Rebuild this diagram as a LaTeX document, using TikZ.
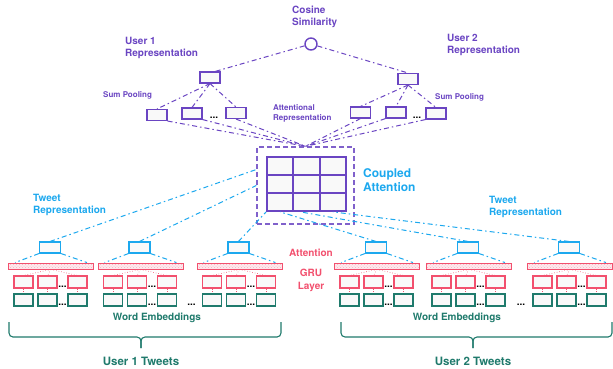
\documentclass[tikz,border=0pt]{standalone}
\usepackage{fontspec}
\setmainfont{TeX Gyre Heros}
\usetikzlibrary{calc,patterns}

\definecolor{umpurple}{HTML}{6A45C2}
\definecolor{twcyan}{HTML}{1CA8EE}
\definecolor{grured}{HTML}{F2506E}
\definecolor{embgreen}{HTML}{1F7A6C}

\tikzset{
    box/.style={fill=gray!5, inner sep=0pt, line width=1.1pt},
    userbox/.style={box, draw=umpurple, minimum width=20pt, minimum height=11pt},
    tweetbox/.style={box, draw=twcyan, minimum width=21pt, minimum height=11pt},
    grubox/.style={box, draw=grured, minimum width=19pt, minimum height=12pt},
    wordbox/.style={box, draw=embgreen, minimum width=19pt, minimum height=12pt},
    attnbar/.style={draw=grured, line width=0.9pt, inner sep=0pt, minimum width=85pt, minimum height=6pt,
        preaction={fill=grured!12}, pattern=crosshatch dots, pattern color=grured!45},
    cell/.style={draw=umpurple, fill=gray!5, line width=1.8pt, inner sep=0pt, minimum width=26.33pt, minimum height=18pt},
    dashline/.style={line width=1pt, dash pattern=on 5pt off 3pt on 1.5pt off 3pt},
    userline/.style={dashline, umpurple},
    tweetline/.style={dashline, twcyan},
    gruline/.style={grured, line width=0.6pt, dotted},
    lbl/.style={font=\bfseries\fontsize{10}{12.5}\selectfont, align=left, anchor=west, inner sep=0pt},
    small/.style={font=\bfseries\fontsize{8}{9.5}\selectfont, align=left, anchor=west, inner sep=0pt},
    dots/.style={font=\bfseries\fontsize{10}{12}\selectfont, anchor=base, inner sep=0pt},
}

% one tweet: word embeddings, GRU layer, attention bar, tweet box
\newcommand{\tweetgroup}[2]{
    \node[tweetbox] (t#1) at (#2+26.5, 247.5) {};
    \node[attnbar] (b#1) at (#2+27.5, 266) {};
    \draw[tweetline] (t#1.south west) -- ($(b#1.north west)+(7,0)$);
    \draw[tweetline] (t#1.south east) -- ($(b#1.north east)+(-7,0)$);
    \foreach \k/\dx in {1/0, 2/24, 3/54} {
        \node[grubox] (g#1\k) at (#2+\dx, 282) {};
        \node[wordbox] (w#1\k) at (#2+\dx, 300) {};
        \draw[gruline] (b#1.south) -- (g#1\k.north);
        \draw[gruline] (g#1\k) -- (w#1\k);
    }
    \node[dots] at (#2+39, 287) {...};
    \node[dots] at (#2+39, 305) {...};
}
\newcommand{\tweetbrace}[3]{
    \draw[embgreen, line width=1.1pt, rounded corners=4pt] (#1,322) -- (#1,337) -- (#3,337) -- (#3,348);
    \draw[embgreen, line width=1.1pt, rounded corners=4pt] (#3,348) -- (#3,337) -- (#2,337) -- (#2,322);
}

\begin{document}
\begin{tikzpicture}[x=1pt, y=-1pt]
    \useasboundingbox (0,0) rectangle (613,368);

    % Tweets of both users
    \tweetgroup{1}{23.5}
    \tweetgroup{2}{113}
    \tweetgroup{3}{212}
    \tweetgroup{4}{349.5}
    \tweetgroup{5}{441.5}
    \tweetgroup{6}{542.5}
    \node[dots] at (191.5, 305) {...};
    \node[dots] at (521, 305) {...};

    % Coupled attention
    \node[draw=umpurple!85, line width=1.4pt, dash pattern=on 5pt off 3pt, minimum width=97pt, minimum height=77pt] (attn) at (305.5,185.5) {};
    \foreach \i in {0,1,2} {
        \foreach \j in {0,1,2} {
            \node[cell] (c\i\j) at (280.17+26.33*\i, 166+18*\j) {};
        }
    }
    \draw[tweetline] (t1.north) -- ($(attn.west)+(0,-16)$);
    \draw[tweetline] (t2.north) -- (attn.west);
    \draw[tweetline] (t3.north) -- (c02.south west);
    \draw[tweetline] (t4.north) -- (c02.south);
    \draw[tweetline] (t5.north) -- ($(c12.south)+(-6,0)$);
    \draw[tweetline] (t6.north) -- (c22.south);

    % User representations
    \node[draw=umpurple, line width=1.4pt, circle, minimum size=12pt, inner sep=0pt] (cossim) at (311,44) {};
    \node[userbox] (u1) at (210,77.5) {};
    \node[userbox] (u2) at (408,79) {};
    \node[userbox] (p1) at (157,115) {};
    \node[userbox] (p2) at (192,113.5) {};
    \node[userbox] (p3) at (236,113) {};
    \node[userbox] (q1) at (360.5,112.5) {};
    \node[userbox] (q2) at (396,112.5) {};
    \node[userbox] (q3) at (436,113.5) {};
    \node[dots] at (214,118) {...};
    \node[dots] at (417,118) {...};
    \draw[userline] (cossim) -- ($(u1.north)+(5,0)$);
    \draw[userline] (cossim) -- (u2.north);
    \foreach \p in {p1,p2,p3} \draw[userline] (u1.south) -- (\p.north);
    \foreach \p in {q1,q2,q3} \draw[userline] (u2.south) -- (\p.north);
    \draw[userline] (p1.south east) -- (attn.north);
    \draw[userline] (p2.south east) -- (attn.north);
    \draw[userline] (p3.south) -- (attn.north);
    \draw[userline] (q1.south) -- (attn.north);
    \draw[userline] (q2.south west) -- (attn.north);
    \draw[userline] (q3.south west) -- (attn.north);

    % Labels
    \node[lbl, umpurple] (lcos) at (292,17) {Cosine\\Similarity};
    \node[lbl, umpurple] (lu1) at (125,48) {User 1\\Representation};
    \node[lbl, umpurple] (lu2) at (447,45) {User 2\\Representation};
    \node[small, umpurple] (lsp1) at (103,95.5) {Sum Pooling};
    \node[small, umpurple] (lsp2) at (435,97.5) {Sum Pooling};
    \node[small, umpurple] (lar) at (273,113.5) {Attentional\\Representation};
    \node[lbl, twcyan, font=\bfseries\fontsize{12}{14}\selectfont] (lca) at (363,180) {Coupled\\Attention};
    \node[lbl, twcyan] (ltr1) at (33,205) {Tweet\\Representation};
    \node[lbl, twcyan] (ltr2) at (489,207) {Tweet\\Representation};
    \node[lbl, grured, anchor=center] (latt) at (311,253) {Attention};
    \node[lbl, grured, anchor=center, align=center] (lgru) at (311,280.5) {GRU\\Layer};
    \node[lbl, embgreen, anchor=center] (lwe1) at (157,318) {Word Embeddings};
    \node[lbl, embgreen, anchor=center] (lwe2) at (457,318) {Word Embeddings};

    % Braces
    \tweetbrace{9}{281}{141}
    \tweetbrace{341}{612}{473}
    \node[lbl, embgreen, anchor=center, font=\bfseries\fontsize{11.5}{13}\selectfont] (lut1) at (141,361) {User 1 Tweets};
    \node[lbl, embgreen, anchor=center, font=\bfseries\fontsize{11.5}{13}\selectfont] (lut2) at (473,361.5) {User 2 Tweets};
\end{tikzpicture}
\end{document}
